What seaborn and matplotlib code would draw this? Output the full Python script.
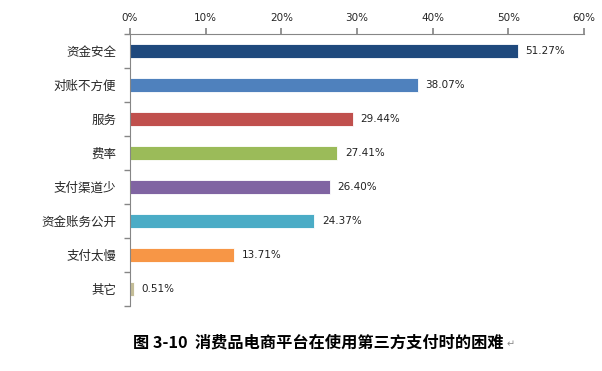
import matplotlib
matplotlib.use("Agg")
import matplotlib.pyplot as plt
import pandas as pd
import seaborn as sns
import numpy as np

sns.set_theme(style="white")
plt.rcParams['font.family'] = ['Noto Sans CJK SC', 'DejaVu Sans']

categories = ["资金安全", "对账不方便", "服务", "费率", "支付渠道少", "资金账务公开", "支付太慢", "其它"]
values = [51.27, 38.07, 29.44, 27.41, 26.40, 24.37, 13.71, 0.51]
colors = ["#1F497D", "#4F81BD", "#C0504D", "#9BBB59", "#8064A2", "#4BACC6", "#F79646", "#C4BD97"]
xticks = [0, 10, 20, 30, 40, 50, 60]
title = "图 3-10  消费品电商平台在使用第三方支付时的困难"

df = pd.DataFrame({"cat": categories, "val": values})

fig = plt.figure(figsize=(6.02, 3.71), dpi=100)
ax = fig.add_axes([0.216, 0.175, 0.754, 0.733])
sns.barplot(data=df, x="val", y="cat", hue="cat", palette=colors, legend=False,
            width=0.42, ax=ax, saturation=1, edgecolor="white", linewidth=0.6)

ax.set_xlim(0, 60)
ax.set_ylim(len(categories) - 0.5, -0.5)
ax.set_xticks(xticks)
ax.set_xticklabels([f"{t}%" for t in xticks], fontsize=7.5, family="DejaVu Sans")
ax.xaxis.tick_top()
ax.tick_params(axis="x", direction="out", length=4, color="#868686", pad=4, top=True, bottom=False)
ax.set_yticks(np.arange(len(categories) + 1) - 0.5, minor=True)
ax.set_yticks(np.arange(len(categories)))
ax.set_yticklabels(categories, fontsize=9)
ax.tick_params(axis="y", which="major", length=0, pad=10, left=False)
ax.tick_params(axis="y", which="minor", length=4, color="#868686", left=True, direction="out")
ax.set_xlabel("")
ax.set_ylabel("")

for s in ["right", "bottom"]:
    ax.spines[s].set_visible(False)
for s in ["left", "top"]:
    ax.spines[s].set_color("#868686")
    ax.spines[s].set_linewidth(0.8)

for i, v in enumerate(values):
    ax.text(v + 1.0, i, f"{v:.2f}%", va="center", ha="left", fontsize=7.5, family="DejaVu Sans", color="#222222")

fig.text(0.528, 0.078, title, ha="center", va="center", fontsize=11.7, fontweight="bold", color="black")
fig.text(0.842, 0.072, "↵", ha="left", va="center", fontsize=7, color="#888888", family="DejaVu Sans")

fig.savefig("out.png", dpi=100)
